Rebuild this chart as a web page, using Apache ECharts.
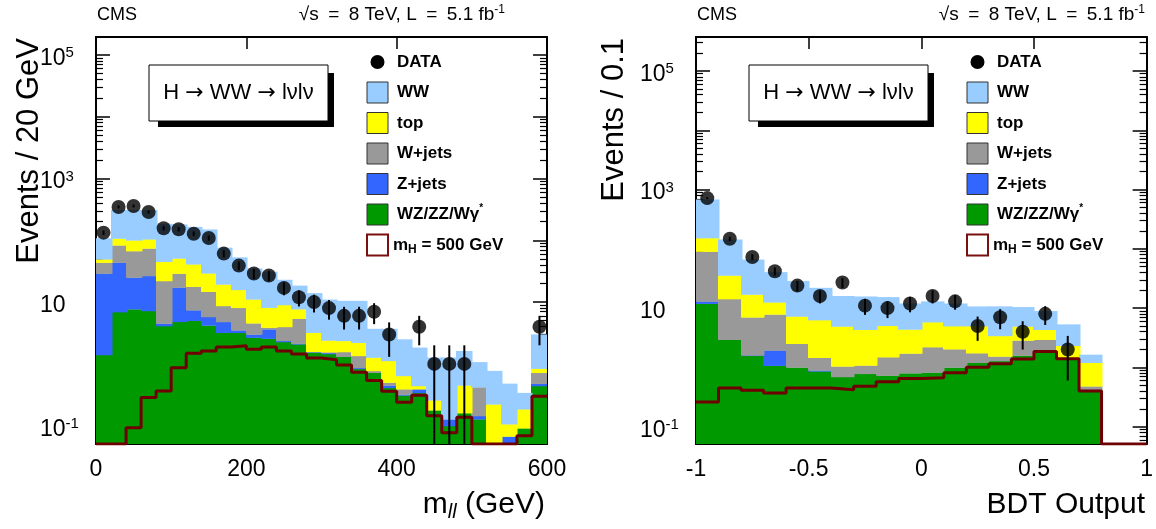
<!DOCTYPE html>
<html><head><meta charset="utf-8">
<script src="https://cdn.jsdelivr.net/npm/echarts@6/dist/echarts.min.js"></script>
<style>html,body{margin:0;padding:0;background:#fff}#c{width:1156px;height:529px}</style>
</head><body><div id="c"></div>
<script>
// ---------------- DATA ----------------
// Left panel: m_ll, 30 bins of 20 GeV from 0 to 600
const mllRange = [0, 600];
const mllBinWidth = 20;
const mllVV    = [1.4, 6.9, 7.7, 7.2, 4.1, 4.8, 5.0, 4.2, 3.2, 3.2, 2.67, 2.57, 2.27, 2.08, 1.52, 1.45, 1.31, 0.83, 0.72, 0.41, 0.31, 0.34, 0.178, 0.099, 0.16, 0.127, 0, 0, 0.091, 0.44];
const mllZjets = [27.6, 36.7, 17.3, 19.3, 0.4, 12.4, 2.4, 1.56, 1.58, 0.3, 0.33, 1.07, 0.09, 0.05, 0.04, 0.05, 0, 0.03, 0, 0.04, 0.01, 0.05, 0, 0.028, 0, 0.017, 0, 0.067, 0, 0.04];
const mllWjets = [14.6, 39.4, 42, 47.5, 17.5, 11.8, 10.4, 9.0, 3.9, 4.6, 1.55, 0.23, 1.61, 3.27, 0, 0.05, 0.25, 0.49, 0.05, 0.05, 0.07, 0, 0, 0, 0, 0.276, 0, 0, 0, 0.24];
const mllTop   = [5.8, 24, 33, 30, 23, 22, 23.2, 14.5, 10.7, 7.7, 6.55, 4.28, 5.03, 2.3, 1.64, 0.85, 0.8, 0.86, 0.5, 0.62, 0.25, 0.05, 0.08, 0, 0.29, 0, 0.222, 0.039, 0.094, 0.12];
const mllWW    = [58.6, 203, 210, 206, 140, 129, 124, 120.7, 56.6, 37.2, 23.9, 22.9, 14, 10.8, 10.8, 8.6, 8.14, 8.29, 2.43, 2.58, 1.86, 1.4, 1.01, 1.14, 1.17, 0.65, 0.55, 0.374, 0.155, 2.16];
const mllSignal = [0, 0, 0.093, 0.285, 0.366, 0.87, 1.49, 1.62, 1.88, 1.96, 1.73, 1.88, 1.62, 1.45, 1.25, 1.17, 0.96, 0.73, 0.54, 0.36, 0.24, 0.31, 0.145, 0.077, 0.137, 0, 0, 0, 0.069, 0.30];
const mllData  = [133, 347, 360, 288, 157, 151, 128, 109, 61, 39, 29, 27, 17, 12, 10, 8, 6, 6, 7, 3, null, 4, 1, 1, 1, null, null, null, null, 4];
const mllErr   = [11.5, 18.6, 19.0, 17.0, 12.5, 12.3, 11.3, 10.4, 7.8, 6.2, 5.4, 5.2, 4.1, 3.5, 3.2, 2.8, 2.4, 2.4, 2.6, 1.7, null, 2.0, 1.0, 1.0, 1.0, null, null, null, null, 2.0];

// Right panel: BDT output, 20 bins of 0.1 from -1 to 1
const bdtRange = [-1, 1];
const bdtBinWidth = 0.1;
const bdtVV    = [11.9, 2.93, 1.57, 1.07, 1.0, 0.86, 0.69, 0.78, 0.73, 0.80, 0.82, 1.0, 1.2, 1.28, 1.59, 1.86, 1.46, 0.41, 0, 0];
const bdtZjets = [1.1, 0, 0.03, 0.87, 0, 0.03, 0, 0, 0, 0, 0, 0, 0, 0, 0, 0, 0, 0, 0, 0];
const bdtWjets = [77, 11.3, 5.4, 5.9, 1.51, 0.57, 0.35, 0.3, 0.76, 0.92, 1.38, 1.03, 0.54, 0.25, 1.26, 1.07, 0, 0.07, 0, 0];
const bdtTop   = [62, 21.4, 10, 4.7, 4.74, 4.83, 3.87, 3.24, 3.55, 2.65, 3.6, 2.95, 3.24, 1.87, 2.06, 1.39, 0.86, 0.72, 0, 0];
const bdtWW    = [529, 108, 49, 28, 21.4, 15.7, 11.1, 11.4, 10.3, 7.6, 7.2, 7.0, 5.7, 7.3, 5.5, 4.6, 3.0, 0.44, 0, 0];
const bdtSignal = [0.26, 0.45, 0.41, 0.37, 0.45, 0.45, 0.42, 0.48, 0.57, 0.65, 0.67, 0.81, 1.01, 1.15, 1.38, 1.86, 1.4, 0.4, 0, 0];
const bdtData  = [718, 148, 73, 42, 24, 16, 27, 11, 10, 12, 16, 13, 5, 7, 4, 8, 2, null, null, null];
const bdtErr   = [26.8, 12.2, 8.5, 6.5, 4.9, 4.0, 5.2, 3.3, 3.2, 3.5, 4.0, 3.6, 2.2, 2.6, 2.0, 2.8, 1.4, null, null, null];

// Tick labels / texts
const yLabelValues = [0.1, 10, 1000, 100000];
const legendNames = ['DATA', 'WW', 'top', 'W+jets', 'Z+jets', 'WZ/ZZ/Wγ*', 'mH = 500 GeV'];

// ---------------- STYLE / LAYOUT ----------------
const FONT = '"Liberation Sans", Arial, Helvetica, sans-serif';
const layerColors = ['#009900', '#3366ff', '#999999', '#ffff00', '#99ccff'];
const sigColor = '#6e0000';

const panels = [
  { left: 96, width: 451, top: 37, height: 407, range: mllRange, binW: mllBinWidth, interval: 200,
    yMin: 0.0506, yMax: 1.95e5, comps: [mllVV, mllZjets, mllWjets, mllTop, mllWW],
    sig: mllSignal, data: mllData, err: mllErr, yTitle: 'Events / 20 GeV', yTitleX: 29, hdrRight: 505 },
  { left: 696, width: 451, top: 37, height: 407, range: bdtRange, binW: bdtBinWidth, interval: 0.5,
    yMin: 0.051, yMax: 3.75e5, comps: [bdtVV, bdtZjets, bdtWjets, bdtTop, bdtWW],
    sig: bdtSignal, data: bdtData, err: bdtErr, yTitle: 'Events / 0.1', yTitleX: 614, hdrRight: 1145 }
];

function majorTicks(lo, hi) { const r = []; for (let e = -2; e <= 6; e++) { const v = Math.pow(10, e); if (v >= lo && v <= hi) r.push(v); } return r; }
function minorTicks(lo, hi) { const r = []; for (let e = -2; e <= 6; e++) for (let k = 2; k <= 9; k++) { const v = k * Math.pow(10, e); if (v >= lo && v <= hi) r.push(v); } return r; }

const grids = [], xAxes = [], yAxes = [], series = [], graphics = [];

panels.forEach((p, pi) => {
  grids.push({ left: p.left, top: p.top, width: p.width, height: p.height, containLabel: false });
  const xb = xAxes.length;
  const axLine = { show: true, onZero: false, lineStyle: { color: '#000', width: 2 } };
  xAxes.push({ type: 'value', gridIndex: pi, min: p.range[0], max: p.range[1], interval: p.interval, position: 'bottom',
    axisLine: axLine, axisTick: { show: true, inside: true, length: 12, lineStyle: { color: '#000', width: 1.5 } },
    axisLabel: { show: true, fontSize: 23, fontFamily: FONT, color: '#000', margin: 14, showMinLabel: true, showMaxLabel: true },
    splitLine: { show: false } });
  xAxes.push({ type: 'value', gridIndex: pi, min: p.range[0], max: p.range[1], interval: p.interval, position: 'top',
    axisLine: axLine, axisTick: { show: true, inside: true, length: 12, lineStyle: { color: '#000', width: 1.5 } },
    axisLabel: { show: false }, splitLine: { show: false } });
  const yb = yAxes.length;
  const mj = majorTicks(p.yMin, p.yMax), mn = minorTicks(p.yMin, p.yMax);
  ['left', 'right'].forEach(pos => {
    yAxes.push({ type: 'log', logBase: 10, gridIndex: pi, min: p.yMin, max: p.yMax, position: pos,
      axisLine: axLine,
      axisTick: { show: true, inside: true, length: 14, customValues: mj, lineStyle: { color: '#000', width: 1.5 } },
      axisLabel: pos === 'left' ? { show: true, customValues: yLabelValues, align: 'left', margin: 56, padding: [7, 0, 0, 0],
        formatter: v => { const e = Math.round(Math.log10(v)); return e === 1 ? '{b|10}' : '{b|10}{s|' + e + '}'; },
        rich: { b: { fontSize: 23, fontFamily: FONT, color: '#000', lineHeight: 26 },
                s: { fontSize: 15, fontFamily: FONT, color: '#000', lineHeight: 12, verticalAlign: 'top' } } } : { show: false },
      splitLine: { show: false } });
    yAxes.push({ type: 'log', logBase: 10, gridIndex: pi, min: p.yMin, max: p.yMax, position: pos,
      axisLine: { show: false, onZero: false },
      axisTick: { show: true, inside: true, length: 7, customValues: mn, lineStyle: { color: '#000', width: 1.2 } },
      axisLabel: { show: false }, splitLine: { show: false } });
  });

  // stacked histogram layers
  const n = p.comps[0].length;
  let cumLo = new Array(n).fill(0);
  p.comps.forEach((comp, k) => {
    const lo = cumLo.slice();
    const hi = lo.map((v, i) => v + comp[i]);
    cumLo = hi;
    series.push({ type: 'custom', xAxisIndex: xb, yAxisIndex: yb, silent: true, clip: true, z: 2 + k * 0.01,
      data: hi.map((v, i) => [p.range[0] + (i + 0.5) * p.binW, Math.max(v, p.yMin)]),
      renderItem: (params, api) => {
        const i = params.dataIndex;
        const bot = Math.max(lo[i], p.yMin), top = Math.min(hi[i], p.yMax);
        if (top <= bot || comp[i] <= 0) return null;
        const a = api.coord([p.range[0] + i * p.binW, top]);
        const b = api.coord([p.range[0] + (i + 1) * p.binW, bot]);
        const x0 = Math.floor(a[0]), x1 = Math.ceil(b[0]);
        return { type: 'rect', shape: { x: x0, y: a[1], width: x1 - x0 + 0.5, height: b[1] - a[1] + 0.3 },
          style: { fill: layerColors[k], lineWidth: 0 } };
      } });
  });

  // signal step line
  const sigPts = p.sig.map((v, i) => [p.range[0] + i * p.binW, Math.max(v, p.yMin)]);
  sigPts.push([p.range[1], Math.max(p.sig[p.sig.length - 1], p.yMin)]);
  series.push({ type: 'line', xAxisIndex: xb, yAxisIndex: yb, step: 'end', symbol: 'none', silent: true, z: 3,
    data: sigPts, lineStyle: { color: sigColor, width: 3 } });

  // data error bars + points
  const pts = [];
  p.data.forEach((v, i) => { if (v != null) pts.push([p.range[0] + (i + 0.5) * p.binW, v, p.err[i]]); });
  series.push({ type: 'custom', xAxisIndex: xb, yAxisIndex: yb, silent: true, clip: true, z: 4,
    data: pts,
    renderItem: (params, api) => {
      const x = api.value(0), v = api.value(1), e = api.value(2);
      const t = api.coord([x, Math.min(v + e, p.yMax)]);
      const b = api.coord([x, Math.max(v - e, p.yMin)]);
      return { type: 'line', shape: { x1: t[0], y1: t[1], x2: b[0], y2: b[1] }, style: { stroke: '#000', lineWidth: 2 } };
    } });
  series.push({ type: 'scatter', xAxisIndex: xb, yAxisIndex: yb, silent: true, z: 5, symbol: 'circle', symbolSize: 14,
    itemStyle: { color: '#000' }, data: pts.map(q => [q[0], q[1]]) });

  // ---- graphics: header, process box, legend, titles ----
  graphics.push({ type: 'text', x: p.left + 1, y: 15, style: { text: 'CMS', font: '18px ' + FONT, fill: '#000', verticalAlign: 'middle' } });
  graphics.push({ type: 'text', x: p.hdrRight, y: 15, style: {
    text: '{a|√s\u2002=\u20028 TeV, L\u2002=\u20025.1 fb}{s|-1}',
    align: 'right', verticalAlign: 'middle',
    rich: { a: { fontSize: 19, fontFamily: FONT, color: '#000', lineHeight: 22 },
            s: { fontSize: 12, fontFamily: FONT, color: '#000', lineHeight: 10, verticalAlign: 'top' } } } });
  const bx = p.left + 53;
  graphics.push({ type: 'rect', shape: { x: bx + 9, y: 73, width: 176, height: 54 }, style: { fill: '#000' }, z: 10 });
  graphics.push({ type: 'rect', shape: { x: bx, y: 65, width: 179, height: 56 }, style: { fill: '#fff', stroke: '#000', lineWidth: 1 }, z: 11 });
  graphics.push({ type: 'text', x: bx + 89.5, y: 93, z: 12, style: {
    text: '{t|H }{r|→}{t| WW }{r|→}{t| lνlν}', align: 'center', verticalAlign: 'middle',
    rich: { t: { fontSize: 22, fontFamily: FONT, color: '#000', lineHeight: 26 },
            r: { fontSize: 22, fontFamily: '"DejaVu Sans", sans-serif', color: '#000', lineHeight: 26 } } } });

  const lx = p.left + 271, tx = p.left + 301;
  const rowY = k => 62 + 30.5 * k;
  graphics.push({ type: 'circle', shape: { cx: lx + 10.5, cy: rowY(0), r: 7 }, style: { fill: '#000' }, z: 12 });
  const legendFill = ['#99ccff', '#ffff00', '#999999', '#3366ff', '#009900'];
  for (let k = 1; k <= 5; k++) {
    graphics.push({ type: 'rect', shape: { x: lx, y: rowY(k) - 10.5, width: 21, height: 21 },
      style: { fill: legendFill[k - 1], stroke: '#333', lineWidth: 1 }, z: 12 });
  }
  graphics.push({ type: 'rect', shape: { x: lx, y: rowY(6) - 10.5, width: 21, height: 21 },
    style: { fill: '#fff', stroke: '#7a1010', lineWidth: 2 }, z: 12 });
  const richL = { a: { fontSize: 17, fontWeight: 'bold', fontFamily: FONT, color: '#000', lineHeight: 22 },
    sup: { fontSize: 10, fontWeight: 'bold', fontFamily: FONT, color: '#000', lineHeight: 8, verticalAlign: 'top' },
    sub: { fontSize: 12, fontWeight: 'bold', fontFamily: FONT, color: '#000', lineHeight: 10, verticalAlign: 'bottom' } };
  const legendTexts = ['{a|DATA}', '{a|WW}', '{a|top}', '{a|W+jets}', '{a|Z+jets}', '{a|WZ/ZZ/Wγ}{sup|*}', '{a|m}{sub|H}{a| = 500 GeV}'];
  legendTexts.forEach((t, k) => {
    graphics.push({ type: 'text', x: k === 6 ? tx - 4 : tx, y: rowY(k), z: 12,
      style: { text: t, rich: richL, verticalAlign: 'middle', align: 'left' } });
  });

  // y title
  graphics.push({ type: 'text', x: p.yTitleX, y: 38, rotation: Math.PI / 2, z: 12,
    style: { text: p.yTitle, font: '31px ' + FONT, fill: '#000', align: 'right', verticalAlign: 'middle' } });
});

// x titles
graphics.push({ type: 'text', x: 545, y: 505, z: 12, style: { text: '{a|m}{i|ll}{a| (GeV)}', align: 'right', verticalAlign: 'middle',
  rich: { a: { fontSize: 30, fontFamily: FONT, color: '#000', lineHeight: 34 },
          i: { fontSize: 20, fontStyle: 'italic', fontFamily: FONT, color: '#000', lineHeight: 18, verticalAlign: 'bottom' } } } });
graphics.push({ type: 'text', x: 1145, y: 505, z: 12, style: { text: 'BDT Output', font: '30px ' + FONT, fill: '#000', align: 'right', verticalAlign: 'middle' } });

const chart = echarts.init(document.getElementById('c'), null, { renderer: 'canvas' });
chart.setOption({
  animation: false,
  backgroundColor: '#fff',
  grid: grids, xAxis: xAxes, yAxis: yAxes, series: series, graphic: graphics
});
</script></body></html>
